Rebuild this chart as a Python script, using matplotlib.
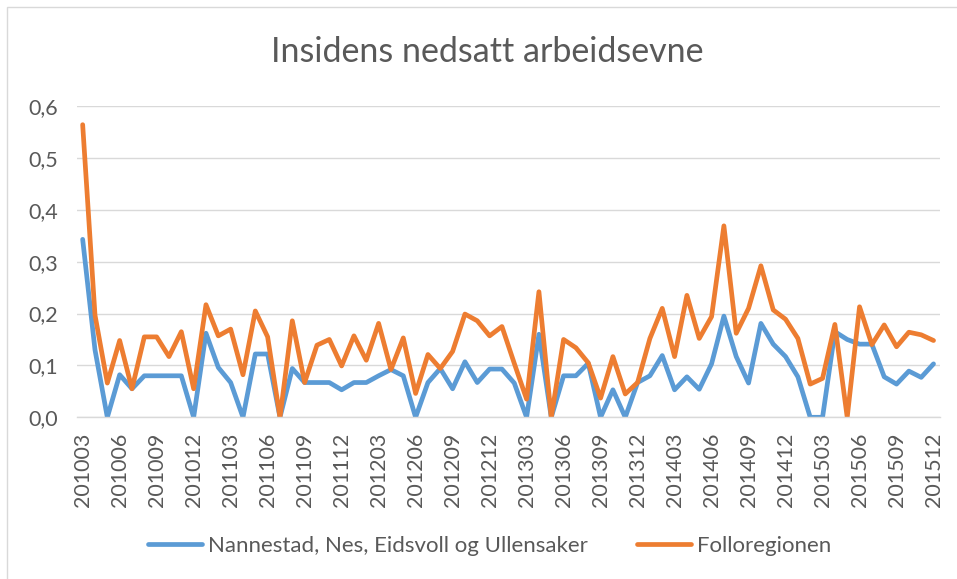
import matplotlib
matplotlib.use("Agg")
import matplotlib.pyplot as plt
from matplotlib.patches import Rectangle
from matplotlib.ticker import FuncFormatter

# =========================
# Data
# =========================

months = [
    "201003", "201004", "201005", "201006", "201007", "201008", "201009", "201010", "201011", "201012",
    "201101", "201102", "201103", "201104", "201105", "201106", "201107", "201108", "201109", "201110", "201111", "201112",
    "201201", "201202", "201203", "201204", "201205", "201206", "201207", "201208", "201209", "201210", "201211", "201212",
    "201301", "201302", "201303", "201304", "201305", "201306", "201307", "201308", "201309", "201310", "201311", "201312",
    "201401", "201402", "201403", "201404", "201405", "201406", "201407", "201408", "201409", "201410", "201411", "201412",
    "201501", "201502", "201503", "201504", "201505", "201506", "201507", "201508", "201509", "201510", "201511", "201512",
]

nannestad = [
    0.343, 0.13, 0.0, 0.082, 0.055, 0.08, 0.08, 0.08, 0.08, 0.0,
    0.162, 0.096, 0.067, 0.0, 0.122, 0.122, 0.0, 0.094, 0.067, 0.067, 0.067, 0.053,
    0.067, 0.067, 0.08, 0.092, 0.08, 0.0, 0.067, 0.094, 0.055, 0.107, 0.067, 0.093,
    0.093, 0.066, 0.0, 0.16, 0.0, 0.08, 0.08, 0.104, 0.0, 0.053, 0.0, 0.067,
    0.08, 0.119, 0.053, 0.078, 0.054, 0.103, 0.195, 0.117, 0.066, 0.181, 0.141, 0.117,
    0.078, 0.0, 0.0, 0.165, 0.15, 0.141, 0.141, 0.078, 0.064, 0.089, 0.077, 0.103,
]

follo = [
    0.564, 0.197, 0.066, 0.148, 0.055, 0.155, 0.155, 0.117, 0.165, 0.055,
    0.217, 0.157, 0.17, 0.082, 0.205, 0.155, 0.0, 0.186, 0.067, 0.139, 0.15, 0.099,
    0.157, 0.11, 0.181, 0.092, 0.153, 0.046, 0.121, 0.094, 0.127, 0.199, 0.186, 0.157,
    0.175, 0.104, 0.035, 0.242, 0.0, 0.15, 0.134, 0.105, 0.037, 0.117, 0.045, 0.067,
    0.152, 0.21, 0.117, 0.235, 0.152, 0.194, 0.369, 0.162, 0.21, 0.292, 0.207, 0.189,
    0.152, 0.064, 0.075, 0.179, 0.0, 0.213, 0.14, 0.178, 0.136, 0.164, 0.159, 0.148,
]

series_names = ["Nannestad, Nes, Eidsvoll og Ullensaker", "Folloregionen"]
title = "Insidens nedsatt arbeidsevne"
y_ticks = [0.0, 0.1, 0.2, 0.3, 0.4, 0.5, 0.6]

BLUE = "#5B9BD5"
ORANGE = "#ED7D31"
GRID = "#D9D9D9"
TEXT = "#595959"

plt.rcParams["font.family"] = ["Lato", "DejaVu Sans"]

W, H = 957, 579
fig = plt.figure(figsize=(W / 100, H / 100), dpi=100)

# light chart-area border (cut off at right and bottom in the reference)
fig.patches.append(Rectangle((6.5 / W, -0.05), 1.0, 1.05 - 6.5 / H,
                             transform=fig.transFigure, fill=False,
                             edgecolor=GRID, linewidth=1.0))

ax = fig.add_axes([76.5 / W, (H - 417.3) / H, (939.7 - 76.5) / W, (417.3 - 106) / H])

x = list(range(len(months)))
ax.plot(x, nannestad, color=BLUE, linewidth=3.4, label=series_names[0],
        solid_capstyle="round", solid_joinstyle="round")
ax.plot(x, follo, color=ORANGE, linewidth=3.4, label=series_names[1],
        solid_capstyle="round", solid_joinstyle="round")

ax.set_xlim(-0.5, len(months) - 0.5)
ax.set_ylim(0, 0.6)
ax.set_yticks(y_ticks)
ax.yaxis.set_major_formatter(FuncFormatter(lambda v, p: f"{v:.1f}".replace(".", ",")))
ax.set_xticks(x[::3])
ax.set_xticklabels(months[::3], rotation=90)

ax.grid(axis="y", color=GRID, linewidth=1.0)
ax.set_axisbelow(True)
for s in ["top", "right", "left"]:
    ax.spines[s].set_visible(False)
ax.spines["bottom"].set_color(GRID)
ax.spines["bottom"].set_linewidth(1.0)
ax.tick_params(axis="both", length=0, colors=TEXT, labelsize=15.5)
ax.tick_params(axis="y", pad=13)
ax.tick_params(axis="x", pad=11)

fig.text(487 / W, 1 - 52 / H, title, ha="center", va="center",
         fontsize=24.5, color=TEXT)

fig.legend(loc="center", bbox_to_anchor=(490 / W, 1 - 546 / H), ncol=2,
           frameon=False, fontsize=16, labelcolor=TEXT, handlelength=2.4,
           handletextpad=0.3, columnspacing=2.2)

fig.savefig("out.png", dpi=100)
